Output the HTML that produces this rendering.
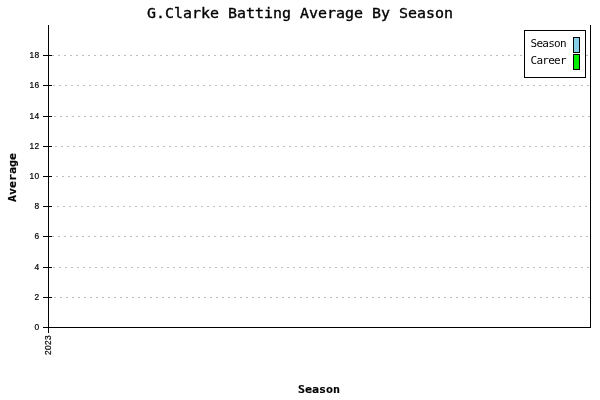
<!DOCTYPE html>
<html lang="en">
<head>
<meta charset="utf-8">
<title>G.Clarke Batting Average By Season</title>
<style>
html,body{margin:0;padding:0;background:#fff;}
body{width:600px;height:400px;overflow:hidden;position:relative;}
svg{position:absolute;left:0;top:0;display:block;}
.ln{shape-rendering:crispEdges;}
.txt{opacity:0.999;}
.title{font-family:"DejaVu Sans Mono","Liberation Mono",monospace;font-weight:normal;font-size:14px;fill:#000;stroke:#000;stroke-width:0.36px;}
.axl{font-family:"DejaVu Sans Mono","Liberation Mono",monospace;font-weight:bold;font-size:11px;fill:#000;stroke:#000;stroke-width:0.18px;}
.leg{font-family:"DejaVu Sans Mono","Liberation Mono",monospace;font-size:11px;fill:#000;}
.tk{font-family:"Liberation Sans","DejaVu Sans",sans-serif;font-size:8.4px;letter-spacing:0.33px;fill:#000;stroke:#000;stroke-width:0.2px;}
</style>
</head>
<body>
<svg width="600" height="400" viewBox="0 0 600 400">
<rect x="0" y="0" width="600" height="400" fill="#ffffff"/>
<g class="ln" stroke="#bebebe" stroke-width="1" stroke-dasharray="2 4" fill="none">
<line x1="52" y1="55.5" x2="590" y2="55.5"/>
<line x1="53" y1="85.5" x2="590" y2="85.5"/>
<line x1="54" y1="116.5" x2="590" y2="116.5"/>
<line x1="55" y1="146.5" x2="590" y2="146.5"/>
<line x1="56" y1="176.5" x2="590" y2="176.5"/>
<line x1="57" y1="206.5" x2="590" y2="206.5"/>
<line x1="52" y1="236.5" x2="590" y2="236.5"/>
<line x1="53" y1="267.5" x2="590" y2="267.5"/>
<line x1="54" y1="297.5" x2="590" y2="297.5"/>
</g>
<g class="ln" fill="#000">
<rect x="48" y="25" width="1" height="308"/>
<rect x="590" y="25" width="1" height="303"/>
<rect x="48" y="327" width="543" height="1"/>
<rect x="43" y="327" width="9" height="1"/>
<rect x="43" y="297" width="9" height="1"/>
<rect x="43" y="267" width="9" height="1"/>
<rect x="43" y="236" width="9" height="1"/>
<rect x="43" y="206" width="9" height="1"/>
<rect x="43" y="176" width="9" height="1"/>
<rect x="43" y="146" width="9" height="1"/>
<rect x="43" y="116" width="9" height="1"/>
<rect x="43" y="85" width="9" height="1"/>
<rect x="43" y="55" width="9" height="1"/>
</g>
<g class="ln">
<rect x="524.5" y="30.5" width="61" height="47" fill="#fff" stroke="#000" stroke-width="1"/>
<rect x="573.5" y="37.5" width="6" height="15" fill="#87ceeb" stroke="#000" stroke-width="1"/>
<rect x="573.5" y="54.5" width="6" height="15" fill="#00ee00" stroke="#000" stroke-width="1"/>
</g>
<g class="txt">
<g class="tk" text-anchor="end">
<text x="39.58" y="330">0</text>
<text x="39.58" y="300">2</text>
<text x="39.58" y="270">4</text>
<text x="39.58" y="239">6</text>
<text x="39.58" y="209">8</text>
<text x="39.58" y="179">10</text>
<text x="39.58" y="149">12</text>
<text x="39.58" y="119">14</text>
<text x="39.58" y="88">16</text>
<text x="39.58" y="58">18</text>
</g>
<text class="tk" transform="translate(51,355) rotate(-90)">2023</text>
<text class="leg" x="530.5" y="47" textLength="36" lengthAdjust="spacing">Season</text>
<text class="leg" x="530.5" y="64" textLength="36" lengthAdjust="spacing">Career</text>
<text class="title" x="147" y="18" textLength="306" lengthAdjust="spacingAndGlyphs">G.Clarke Batting Average By Season</text>
<text class="axl" x="298" y="393" textLength="42" lengthAdjust="spacingAndGlyphs">Season</text>
<text class="axl" transform="translate(16,202) rotate(-90)" textLength="49" lengthAdjust="spacingAndGlyphs">Average</text>
</g>
</svg>
</body>
</html>
